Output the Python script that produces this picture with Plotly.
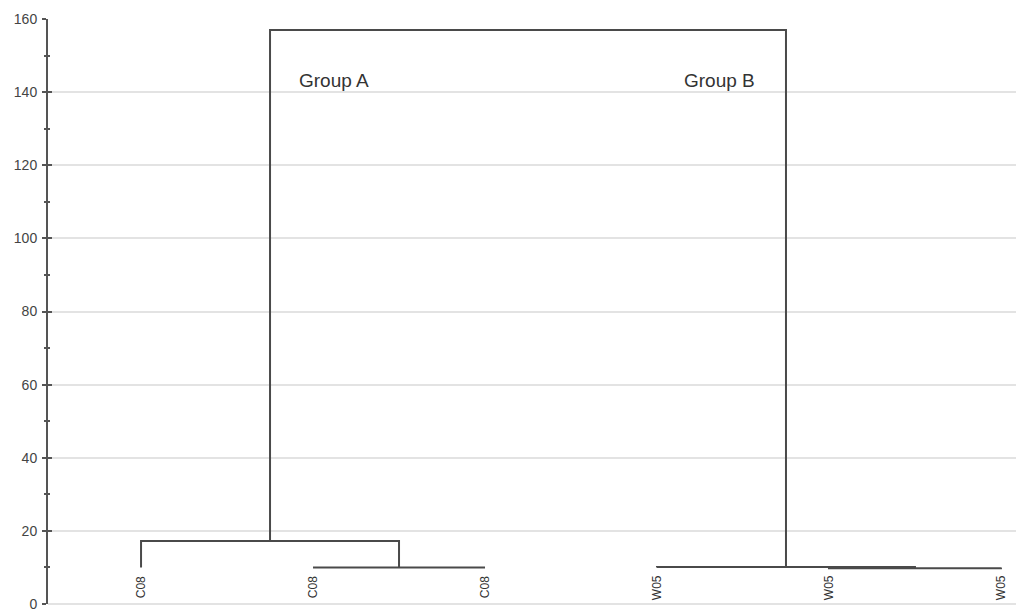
import plotly.graph_objects as go

# Leaves (left to right)
leaf_labels = ["C08", "C08", "C08", "W05", "W05", "W05"]
leaf_base = 10.0
# Merges: node ids 6.. created in order (left child, right child, height)
merge_left = [1, 4, 0, 3, 8]
merge_right = [2, 5, 6, 7, 9]
merge_height = [10.0, 9.8, 17.2, 10.1, 157.0]

group_labels = ["Group A", "Group B"]
group_x = [0.907, 3.145]
group_y = [143.2, 143.2]

y_ticks = [0, 20, 40, 60, 80, 100, 120, 140, 160]

# compute node positions
node_x = list(range(len(leaf_labels)))
node_h = [leaf_base] * len(leaf_labels)
xs, ys = [], []
for l, r, h in zip(merge_left, merge_right, merge_height):
    xl, xr = node_x[l], node_x[r]
    xs += [xl, xl, xr, xr, None]
    ys += [node_h[l], h, h, node_h[r], None]
    node_x.append((xl + xr) / 2)
    node_h.append(h)

fig = go.Figure()
fig.add_trace(go.Scatter(x=xs, y=ys, mode="lines",
                         line=dict(color="#4a4a4a", width=2),
                         hoverinfo="skip", showlegend=False))
# invisible trace for the overlay axis
fig.add_trace(go.Scatter(x=[0], y=[0], yaxis="y2", mode="markers",
                         marker=dict(opacity=0), showlegend=False, hoverinfo="skip"))

for i, lab in enumerate(leaf_labels):
    fig.add_annotation(x=i, y=4.6, text=lab, textangle=-90, showarrow=False,
                       xanchor="center", yanchor="middle",
                       font=dict(family="Liberation Sans, Arial", size=12, color="#333333"))
for t, gx, gy in zip(group_labels, group_x, group_y):
    fig.add_annotation(x=gx, y=gy, text=t, showarrow=False, xanchor="left", yanchor="middle",
                       font=dict(family="Liberation Sans, Arial", size=19, color="#333333"))

yr = [0, 160]
fig.update_layout(
    width=1024, height=613,
    margin=dict(l=40, r=8, t=11, b=17, autoexpand=False),
    plot_bgcolor="white", paper_bgcolor="white",
    xaxis=dict(range=[-0.541, 5.134], showgrid=False, zeroline=False,
               showticklabels=False, ticks="", showline=False, automargin=False),
    yaxis=dict(range=yr, tickvals=y_ticks, ticktext=[str(v) for v in y_ticks],
               automargin=False,
               showgrid=True, gridcolor="#e3e3e3", gridwidth=2,
               zeroline=True, zerolinecolor="#e3e3e3", zerolinewidth=2,
               showline=True, linecolor="#555555", linewidth=2,
               ticks="outside", ticklen=4, tickcolor="#555555", tickwidth=2,
               minor=dict(dtick=10, ticks="outside", ticklen=2, tickcolor="#555555", tickwidth=2, showgrid=False),
               tickfont=dict(family="Liberation Sans, Arial", size=14, color="#444444"),
               ticklabelstandoff=2),
    yaxis2=dict(range=yr, overlaying="y", side="left", tickvals=y_ticks, automargin=False,
                showgrid=False, zeroline=False, showticklabels=False,
                showline=False, ticks="inside", ticklen=4, tickcolor="#555555", tickwidth=2,
                minor=dict(dtick=10, ticks="inside", ticklen=2, tickcolor="#555555", tickwidth=2, showgrid=False)),
)

fig.write_html("out.html")
